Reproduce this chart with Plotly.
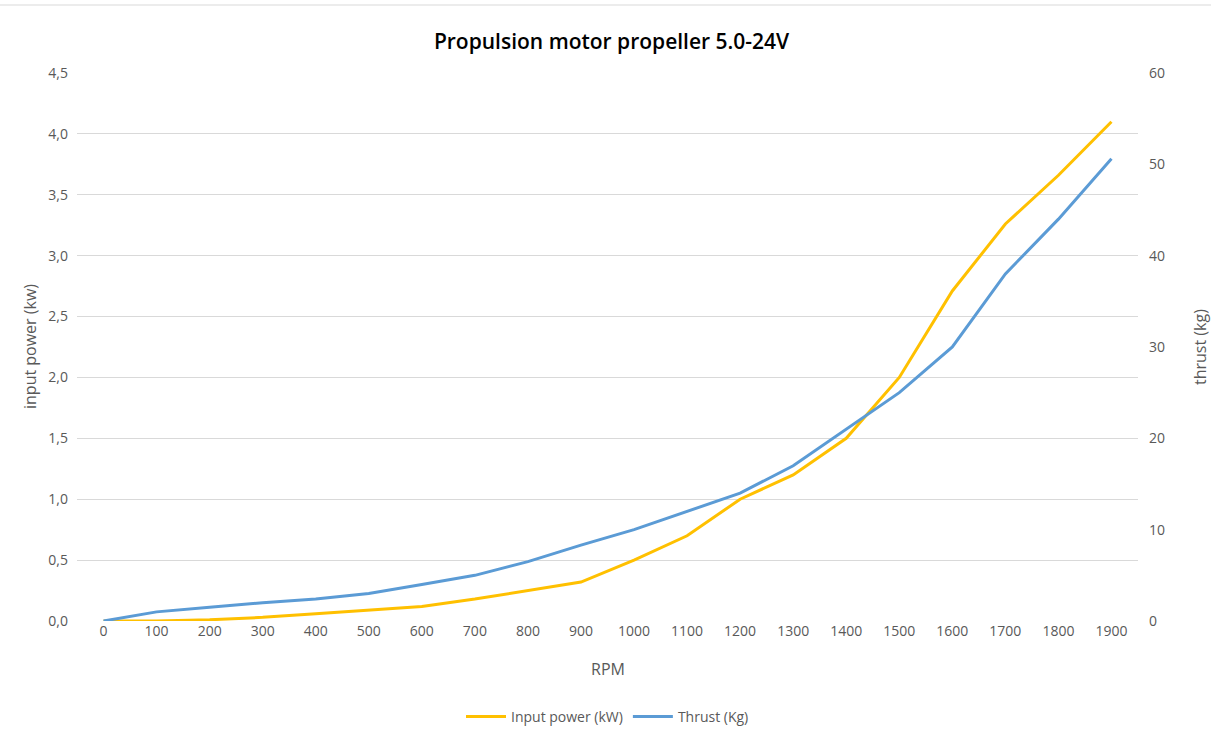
import plotly.graph_objects as go

rpm = [0, 100, 200, 300, 400, 500, 600, 700, 800, 900, 1000, 1100, 1200, 1300, 1400, 1500, 1600, 1700, 1800, 1900]
input_power_kw = [0.0, 0.0, 0.01, 0.03, 0.06, 0.09, 0.12, 0.18, 0.25, 0.32, 0.5, 0.7, 1.0, 1.2, 1.5, 2.0, 2.71, 3.26, 3.66, 4.1]
thrust_kg = [0.0, 1.0, 1.5, 2.0, 2.4, 3.0, 4.0, 5.0, 6.5, 8.3, 10.0, 12.0, 14.0, 17.0, 21.0, 25.0, 30.0, 38.0, 44.0, 50.6]
left_ticks = [0, 0.5, 1.0, 1.5, 2.0, 2.5, 3.0, 3.5, 4.0, 4.5]
right_ticks = [0, 10, 20, 30, 40, 50, 60]

cats = [str(v) for v in rpm]
FONT = "Open Sans"
GREY = "#595959"

fig = go.Figure()
fig.add_trace(go.Scatter(x=cats, y=input_power_kw, name="Input power (kW)", mode="lines",
                         line=dict(color="#FFC000", width=3), yaxis="y"))
fig.add_trace(go.Scatter(x=cats, y=thrust_kg, name="Thrust (Kg)", mode="lines",
                         line=dict(color="#5B9BD5", width=3), yaxis="y2"))

fig.update_layout(
    width=1211, height=740,
    margin=dict(l=77, r=73, t=73, b=119, autoexpand=False),
    paper_bgcolor="white", plot_bgcolor="white",
    separators=",.",
    font=dict(family=FONT, size=14, color=GREY),
    title=dict(text="Propulsion motor propeller 5.0-24V", x=0.505, xanchor="center",
               y=1 - 42 / 740, yanchor="middle",
               font=dict(family=FONT, size=21, color="#000000", weight=600)),
    xaxis=dict(type="category", range=[-0.5, len(cats) - 0.5], showgrid=False, zeroline=False,
               showline=False, ticks="", tickfont=dict(size=14, color=GREY)),
    yaxis=dict(range=[0, 4.5], tickvals=left_ticks, tickformat=".1f", showgrid=True,
               gridcolor="#D9D9D9", gridwidth=1, zeroline=False, showline=False, ticks="",
               ticklabelstandoff=8, tickfont=dict(size=14, color=GREY)),
    yaxis2=dict(range=[0, 60], tickvals=right_ticks, overlaying="y", side="right", showgrid=False,
                zeroline=False, showline=False, ticks="", ticklabelstandoff=10,
                tickfont=dict(size=14, color=GREY)),
    legend=dict(orientation="h", x=0.5, xanchor="center", yref="container",
                y=(740 - 717) / 740, yanchor="middle",
                font=dict(size=14, color=GREY), itemwidth=40),
    annotations=[
        dict(text="RPM", xref="paper", yref="paper", x=0.5, y=-(669 - 621) / 548,
             xanchor="center", yanchor="middle", showarrow=False, font=dict(size=16, color=GREY)),
        dict(text="input power (kw)", xref="paper", yref="paper", x=(30 - 77) / 1061, y=0.5,
             xanchor="center", yanchor="middle", textangle=-90, showarrow=False,
             font=dict(size=16, color=GREY)),
        dict(text="thrust (kg)", xref="paper", yref="paper", x=(1200 - 77) / 1061, y=0.5,
             xanchor="center", yanchor="middle", textangle=-90, showarrow=False,
             font=dict(size=16, color=GREY)),
    ],
    shapes=[
        dict(type="line", xref="paper", yref="paper", x0=-77 / 1061, x1=1134 / 1061,
             y0=(621 - 5) / 548, y1=(621 - 5) / 548, line=dict(color="#D9D9D9", width=1)),
    ],
)

fig.write_html("out.html", config={"displayModeBar": False},
               post_script="document.body.style.margin='0';document.body.style.overflow='hidden';")
